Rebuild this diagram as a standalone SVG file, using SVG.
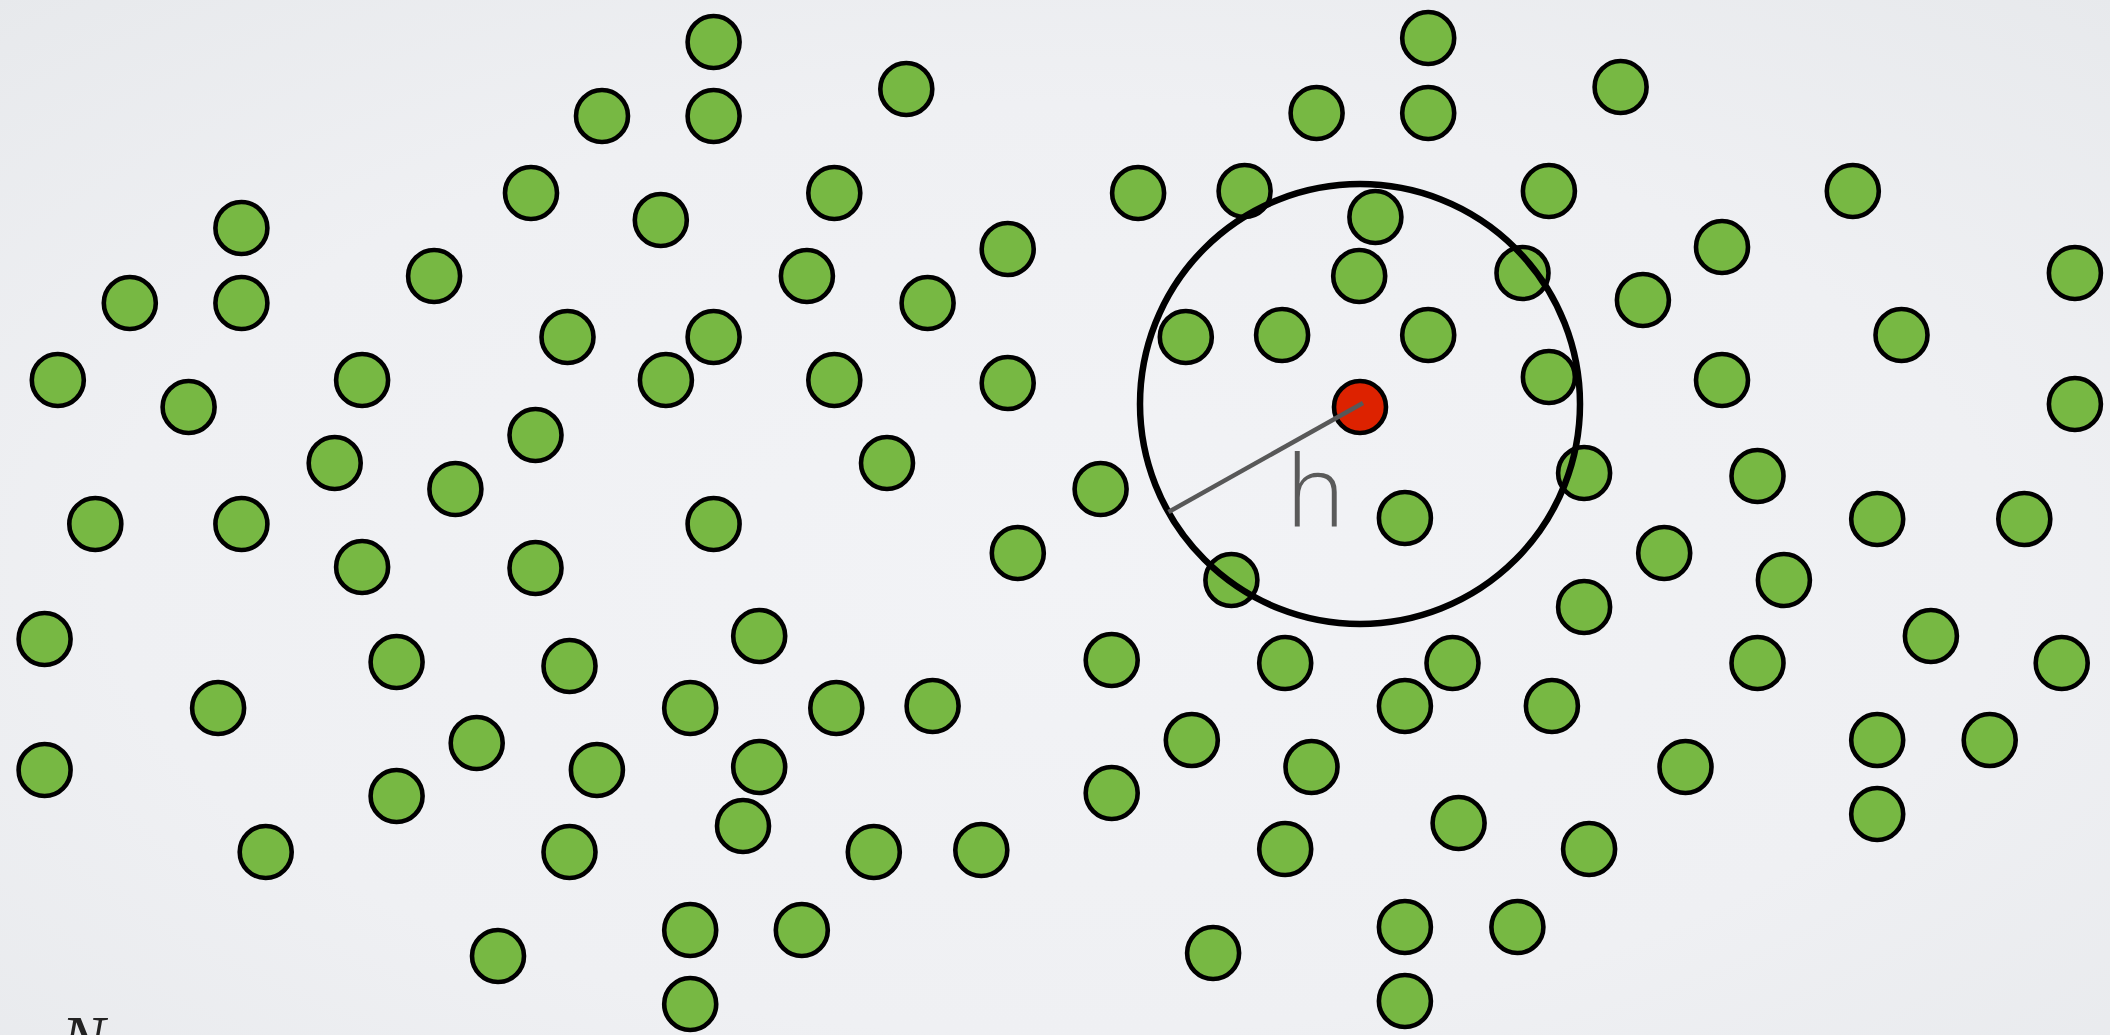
<svg xmlns="http://www.w3.org/2000/svg" width="2110" height="1035" viewBox="0 0 2110 1035">
<defs>
<radialGradient id="bg" cx="50%" cy="55%" r="75%">
<stop offset="0" stop-color="#f2f3f6"/>
<stop offset="0.6" stop-color="#eff0f3"/>
<stop offset="1" stop-color="#e7e9ec"/>
</radialGradient>
</defs>
<style>
.n{fill:#77b843;stroke:#000;stroke-width:4.6}
.q{fill:#dd2200;stroke:#000;stroke-width:4.6}
.big{fill:none;stroke:#000;stroke-width:6.5}
.rad{stroke:#585858;stroke-width:4.5;fill:none}
.h{font-family:"Open Sans","Lato",sans-serif;font-weight:300;font-size:100px;fill:#5a5a5a}
.N{font-family:"Liberation Serif",serif;font-style:italic;font-size:66px;fill:#222}
</style>
<rect width="2110" height="1035" fill="url(#bg)"/>
<g id="points">
<g id="p1"><circle class="n" cx="713.6" cy="42" r="26"/></g>
<g id="p2"><circle class="n" cx="1428.2" cy="38" r="26"/></g>
<g id="p3"><circle class="n" cx="906.3" cy="89" r="26"/></g>
<g id="p4"><circle class="n" cx="1620.6" cy="87" r="26"/></g>
<g id="p5"><circle class="n" cx="602" cy="116" r="26"/></g>
<g id="p6"><circle class="n" cx="713.6" cy="116" r="26"/></g>
<g id="p7"><circle class="n" cx="1316.6" cy="113" r="26"/></g>
<g id="p8"><circle class="n" cx="1428.2" cy="113" r="26"/></g>
<g id="p9"><circle class="n" cx="531" cy="193" r="26"/></g>
<g id="p10"><circle class="n" cx="834.3" cy="193" r="26"/></g>
<g id="p11"><circle class="n" cx="1138.1" cy="193" r="26"/></g>
<g id="p12"><circle class="n" cx="1244.6" cy="191" r="26"/></g>
<g id="p13"><circle class="n" cx="1548.9" cy="191" r="26"/></g>
<g id="p14"><circle class="n" cx="1852.8" cy="191" r="26"/></g>
<g id="p15"><circle class="n" cx="241.4" cy="228" r="26"/></g>
<g id="p16"><circle class="n" cx="660.8" cy="220" r="26"/></g>
<g id="p17"><circle class="n" cx="1375.4" cy="217" r="26"/></g>
<g id="p18"><circle class="n" cx="1722" cy="247" r="26"/></g>
<g id="p19"><circle class="n" cx="1007.7" cy="249" r="26"/></g>
<g id="p20"><circle class="n" cx="434.1" cy="276" r="26"/></g>
<g id="p21"><circle class="n" cx="806.9" cy="276" r="26"/></g>
<g id="p22"><circle class="n" cx="1359.2" cy="276" r="26"/></g>
<g id="p23"><circle class="n" cx="1522.5" cy="273" r="26"/></g>
<g id="p24"><circle class="n" cx="2074.9" cy="273" r="26"/></g>
<g id="p25"><circle class="n" cx="129.8" cy="303" r="26"/></g>
<g id="p26"><circle class="n" cx="241.4" cy="303" r="26"/></g>
<g id="p27"><circle class="n" cx="927.6" cy="303" r="26"/></g>
<g id="p28"><circle class="n" cx="1642.9" cy="300" r="26"/></g>
<g id="p29"><circle class="n" cx="567.5" cy="337" r="26"/></g>
<g id="p30"><circle class="n" cx="713.6" cy="337" r="26"/></g>
<g id="p31"><circle class="n" cx="1185.8" cy="337" r="26"/></g>
<g id="p32"><circle class="n" cx="1282.1" cy="335" r="26"/></g>
<g id="p33"><circle class="n" cx="1428.2" cy="335" r="26"/></g>
<g id="p34"><circle class="n" cx="1901.5" cy="335" r="26"/></g>
<g id="p35"><circle class="n" cx="57.8" cy="380" r="26"/></g>
<g id="p36"><circle class="n" cx="188.6" cy="407" r="26"/></g>
<g id="p37"><circle class="n" cx="362.1" cy="380" r="26"/></g>
<g id="p38"><circle class="n" cx="665.9" cy="380" r="26"/></g>
<g id="p39"><circle class="n" cx="834.3" cy="380" r="26"/></g>
<g id="p40"><circle class="n" cx="1007.7" cy="383" r="26"/></g>
<g id="p41"><circle class="n" cx="1548.9" cy="377" r="26"/></g>
<g id="p42"><circle class="n" cx="1722" cy="380" r="26"/></g>
<g id="p43"><circle class="n" cx="2074.9" cy="404" r="26"/></g>
<g id="p44"><circle class="n" cx="535.5" cy="435" r="26"/></g>
<g id="p45"><circle class="n" cx="334.7" cy="463" r="26"/></g>
<g id="p46"><circle class="n" cx="455.4" cy="489" r="26"/></g>
<g id="p47"><circle class="n" cx="887" cy="463" r="26"/></g>
<g id="p48"><circle class="n" cx="1100.6" cy="489" r="26"/></g>
<g id="p49"><circle class="n" cx="1584.1" cy="473" r="26"/></g>
<g id="p50"><circle class="n" cx="1757.5" cy="476" r="26"/></g>
<g id="p51"><circle class="n" cx="95.3" cy="524" r="26"/></g>
<g id="p52"><circle class="n" cx="241.4" cy="524" r="26"/></g>
<g id="p53"><circle class="n" cx="713.6" cy="524" r="26"/></g>
<g id="p54"><circle class="n" cx="1404.9" cy="518" r="26"/></g>
<g id="p55"><circle class="n" cx="1877.2" cy="519" r="26"/></g>
<g id="p56"><circle class="n" cx="2024.3" cy="519" r="26"/></g>
<g id="p57"><circle class="n" cx="362.1" cy="567" r="26"/></g>
<g id="p58"><circle class="n" cx="535.5" cy="568" r="26"/></g>
<g id="p59"><circle class="n" cx="1017.8" cy="553" r="26"/></g>
<g id="p60"><circle class="n" cx="1231.4" cy="580" r="26"/></g>
<g id="p61"><circle class="n" cx="1664.2" cy="553" r="26"/></g>
<g id="p62"><circle class="n" cx="1783.9" cy="580" r="26"/></g>
<g id="p63"><circle class="n" cx="1584.1" cy="607" r="26"/></g>
<g id="p64"><circle class="n" cx="44.6" cy="639" r="26"/></g>
<g id="p65"><circle class="n" cx="759.2" cy="636" r="26"/></g>
<g id="p66"><circle class="n" cx="1930.9" cy="636" r="26"/></g>
<g id="p67"><circle class="n" cx="396.6" cy="662" r="26"/></g>
<g id="p68"><circle class="n" cx="569.5" cy="666" r="26"/></g>
<g id="p69"><circle class="n" cx="1111.7" cy="660" r="26"/></g>
<g id="p70"><circle class="n" cx="1285.2" cy="663" r="26"/></g>
<g id="p71"><circle class="n" cx="1452.5" cy="663" r="26"/></g>
<g id="p72"><circle class="n" cx="1757.5" cy="663" r="26"/></g>
<g id="p73"><circle class="n" cx="2061.7" cy="663" r="26"/></g>
<g id="p74"><circle class="n" cx="218.1" cy="708" r="26"/></g>
<g id="p75"><circle class="n" cx="690.2" cy="708" r="26"/></g>
<g id="p76"><circle class="n" cx="836.3" cy="708" r="26"/></g>
<g id="p77"><circle class="n" cx="932.6" cy="706" r="26"/></g>
<g id="p78"><circle class="n" cx="1404.9" cy="706" r="26"/></g>
<g id="p79"><circle class="n" cx="1551.9" cy="706" r="26"/></g>
<g id="p80"><circle class="n" cx="476.7" cy="743" r="26"/></g>
<g id="p81"><circle class="n" cx="1191.8" cy="740" r="26"/></g>
<g id="p82"><circle class="n" cx="1877.2" cy="740" r="26"/></g>
<g id="p83"><circle class="n" cx="1989.7" cy="740" r="26"/></g>
<g id="p84"><circle class="n" cx="44.6" cy="770" r="26"/></g>
<g id="p85"><circle class="n" cx="396.6" cy="796" r="26"/></g>
<g id="p86"><circle class="n" cx="596.9" cy="770" r="26"/></g>
<g id="p87"><circle class="n" cx="759.2" cy="767" r="26"/></g>
<g id="p88"><circle class="n" cx="1311.5" cy="767" r="26"/></g>
<g id="p89"><circle class="n" cx="1685.5" cy="767" r="26"/></g>
<g id="p90"><circle class="n" cx="1111.7" cy="793" r="26"/></g>
<g id="p91"><circle class="n" cx="743" cy="826" r="26"/></g>
<g id="p92"><circle class="n" cx="1458.6" cy="823" r="26"/></g>
<g id="p93"><circle class="n" cx="1877.2" cy="814" r="26"/></g>
<g id="p94"><circle class="n" cx="265.7" cy="852" r="26"/></g>
<g id="p95"><circle class="n" cx="569.5" cy="852" r="26"/></g>
<g id="p96"><circle class="n" cx="873.8" cy="852" r="26"/></g>
<g id="p97"><circle class="n" cx="981.3" cy="850" r="26"/></g>
<g id="p98"><circle class="n" cx="1285.2" cy="849" r="26"/></g>
<g id="p99"><circle class="n" cx="1589.1" cy="849" r="26"/></g>
<g id="p100"><circle class="n" cx="690.2" cy="930" r="26"/></g>
<g id="p101"><circle class="n" cx="801.8" cy="930" r="26"/></g>
<g id="p102"><circle class="n" cx="1404.9" cy="927" r="26"/></g>
<g id="p103"><circle class="n" cx="1517.4" cy="927" r="26"/></g>
<g id="p104"><circle class="n" cx="498" cy="956" r="26"/></g>
<g id="p105"><circle class="n" cx="1213.1" cy="953" r="26"/></g>
<g id="p106"><circle class="n" cx="690.2" cy="1004" r="26"/></g>
<g id="p107"><circle class="n" cx="1404.9" cy="1001" r="26"/></g>
</g>
<g id="neighbourhood"><circle class="big" cx="1360" cy="404" r="220"/></g>
<g id="query"><circle class="q" cx="1360" cy="407" r="26"/></g>
<g id="connectors"><line class="rad" x1="1363" y1="403" x2="1168.5" y2="512"/></g>
<g id="labels">
<text class="h" x="1286" y="527">h</text>
<text class="N" x="61" y="1061">N</text>
</g>
</svg>
